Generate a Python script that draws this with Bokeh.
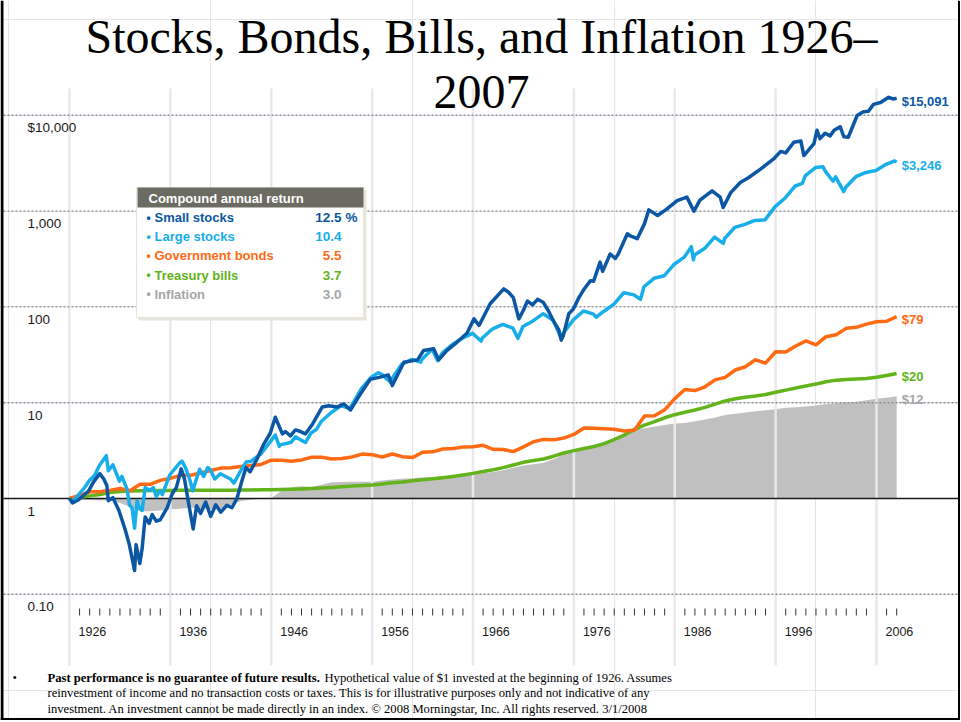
from bokeh.plotting import figure
from bokeh.models import Range1d
from bokeh.core.properties import value
from bokeh.embed import file_html
from bokeh.resources import INLINE

# ------------------------------------------------------------------ data
# Growth of $1 invested at the start of 1926
small_t = [1926.0, 1926.3, 1926.9, 1927.5, 1927.9, 1928.4, 1929.0, 1929.4, 1929.7, 1929.85,
           1930.3, 1930.9, 1931.2, 1931.55, 1931.9, 1932.2, 1932.45, 1932.6, 1932.97, 1933.2,
           1933.5, 1933.9, 1934.2, 1934.6, 1935.0, 1935.7, 1936.2, 1936.6, 1937.07, 1937.4,
           1937.8, 1938.26, 1938.6, 1939.0, 1939.5, 1940.0, 1940.5, 1941.0, 1941.6, 1942.1,
           1942.6, 1943.1, 1943.5, 1943.9, 1944.6, 1945.26, 1945.9, 1946.4, 1947.1, 1947.4,
           1947.9, 1948.4, 1948.9, 1949.4, 1950.1, 1951.05, 1951.7, 1952.5, 1953.2, 1953.85,
           1954.85, 1955.8, 1956.8, 1957.6, 1958.0, 1959.15, 1960.5, 1961.1, 1962.1, 1962.6,
           1963.4, 1964.4, 1965.4, 1966.1, 1966.6, 1967.7, 1969.05, 1969.5, 1970.0, 1970.54,
           1970.95, 1971.4, 1971.9, 1972.4, 1972.95, 1973.5, 1973.95, 1974.5, 1974.75, 1974.95,
           1975.5, 1975.95, 1976.5, 1976.95, 1977.65, 1977.95, 1978.6, 1978.85, 1979.6, 1980.1,
           1980.4, 1981.3, 1981.6, 1982.28, 1983.0, 1983.43, 1984.3, 1985.2, 1986.24, 1987.2,
           1987.9, 1988.5, 1989.7, 1990.5, 1990.8, 1991.55, 1992.5, 1993.34, 1994.5, 1995.8,
           1996.5, 1997.0, 1997.8, 1998.5, 1998.8, 1999.8, 2000.1, 2000.4, 2000.9, 2001.4,
           2001.8, 2002.4, 2002.76, 2003.2, 2004.08, 2004.7, 2005.2, 2005.7, 2006.4, 2007.2,
           2007.7, 2008.0]
small_v = [1.00, 0.90, 0.97, 1.10, 1.20, 1.50, 1.82, 1.60, 1.37, 0.95,
           1.02, 0.75, 0.60, 0.46, 0.34, 0.24, 0.177, 0.33, 0.21, 0.30,
           0.64, 0.55, 0.68, 0.58, 0.60, 0.81, 1.13, 1.30, 2.04, 1.60,
           0.90, 0.48, 0.84, 0.70, 0.92, 0.65, 0.86, 0.72, 0.85, 0.80,
           1.00, 1.54, 2.10, 1.90, 2.60, 3.70, 4.80, 7.06, 4.73, 5.00,
           4.50, 5.20, 5.00, 4.73, 6.00, 9.00, 9.30, 9.00, 9.70, 8.40,
           12.4, 17.5, 18.5, 19.5, 15.1, 26.4, 28.0, 35.0, 36.5, 28.0,
           35.0, 42.7, 53.0, 75.0, 64.0, 108, 154, 143, 125, 75,
           90, 115, 105, 120, 112, 90, 72, 58, 45, 50,
           85, 95, 125, 150, 188, 185, 293, 235, 357, 320,
           357, 580, 550, 515, 740, 1030, 900, 1050, 1285, 1400,
           1000, 1300, 1630, 1400, 1090, 1560, 1985, 2240, 2740, 3500,
           4200, 4050, 5240, 5400, 3800, 5050, 6980, 5700, 6500, 6100,
           6980, 7600, 5970, 5900, 9960, 10900, 11000, 13000, 13600, 15400,
           14800, 15091]

large_t = [1926.0, 1926.3, 1926.9, 1927.5, 1927.95, 1928.5, 1928.95, 1929.65, 1929.85, 1930.3,
           1930.95, 1931.2, 1931.7, 1931.95, 1932.2, 1932.45, 1932.7, 1932.95, 1933.2, 1933.5,
           1933.95, 1934.3, 1934.6, 1934.95, 1935.2, 1935.95, 1936.95, 1937.15, 1937.5, 1937.95,
           1938.2, 1938.9, 1939.3, 1939.7, 1939.95, 1940.4, 1940.95, 1941.95, 1942.3, 1942.95,
           1943.5, 1943.95, 1944.95, 1945.95, 1946.4, 1946.8, 1946.95, 1947.5, 1947.95, 1948.4,
           1948.95, 1949.4, 1949.95, 1950.5, 1950.95, 1951.95, 1952.95, 1953.7, 1953.95, 1954.95,
           1955.95, 1956.6, 1956.95, 1957.8, 1957.95, 1958.95, 1959.95, 1960.8, 1960.95, 1961.95,
           1962.5, 1962.95, 1963.95, 1964.95, 1965.95, 1966.8, 1966.95, 1967.95, 1968.95, 1969.95,
           1970.45, 1970.95, 1971.95, 1972.95, 1973.95, 1974.75, 1974.95, 1975.95, 1976.95, 1977.95,
           1978.2, 1978.95, 1979.95, 1980.95, 1981.95, 1982.6, 1982.95, 1983.95, 1984.95, 1985.95,
           1986.95, 1987.65, 1987.85, 1987.95, 1988.95, 1989.95, 1990.8, 1990.95, 1991.95, 1992.95,
           1993.95, 1994.95, 1995.95, 1996.95, 1997.95, 1998.65, 1998.95, 1999.95, 2000.7, 2000.95,
           2001.7, 2001.95, 2002.75, 2002.95, 2003.95, 2004.95, 2005.95, 2006.95, 2007.8, 2008.0]
large_v = [1.00, 0.92, 1.10, 1.30, 1.535, 1.75, 2.20, 2.80, 1.95, 2.25,
           1.52, 1.70, 1.25, 0.86, 0.80, 0.49, 0.95, 0.79, 0.75, 1.30,
           1.21, 1.30, 1.05, 1.20, 1.10, 1.77, 2.37, 2.45, 2.10, 1.54,
           1.20, 2.02, 1.70, 2.10, 2.01, 1.60, 1.81, 1.60, 1.45, 1.93,
           2.40, 2.43, 2.91, 3.97, 4.60, 3.50, 3.65, 3.75, 3.85, 4.40,
           4.07, 3.85, 4.83, 5.30, 6.36, 7.89, 9.34, 8.70, 9.24, 14.11,
           18.56, 20.50, 19.78, 16.50, 17.65, 25.30, 28.32, 26.50, 28.46, 36.11,
           27.50, 32.95, 40.47, 47.14, 53.01, 44.00, 47.67, 59.10, 65.64, 60.06,
           47.00, 62.47, 71.41, 84.96, 72.50, 47.00, 53.31, 73.14, 90.58, 84.08,
           78.00, 89.59, 106.11, 140.51, 133.62, 120.00, 162.22, 198.75, 211.20, 279.12,
           330.67, 425.00, 310.00, 347.97, 406.46, 534.46, 460.00, 517.50, 675.59, 727.41,
           800.08, 810.54, 1113.92, 1370.95, 1828.33, 1950.00, 2350.89, 2845.63, 2900.00, 2586.52,
           2050.00, 2279.13, 1600.00, 1775.34, 2284.79, 2533.41, 2657.85, 3077.69, 3340.00, 3246.0]

# year-end values, first entry = start of 1926
annual_t = list(range(1926, 2009))
bonds_v = [1.000, 1.078, 1.174, 1.175, 1.215, 1.272, 1.204, 1.407, 1.405, 1.547,
           1.624, 1.746, 1.750, 1.847, 1.957, 2.076, 2.095, 2.162, 2.207, 2.269,
           2.513, 2.510, 2.444, 2.529, 2.692, 2.693, 2.588, 2.617, 2.713, 2.908,
           2.870, 2.710, 2.912, 2.734, 2.673, 3.041, 3.070, 3.282, 3.322, 3.438,
           3.462, 3.589, 3.259, 3.251, 3.086, 3.460, 3.917, 4.140, 4.094, 4.272,
           4.665, 5.447, 5.410, 5.346, 5.280, 5.071, 5.166, 7.251, 7.298, 8.427,
           11.037, 13.745, 13.372, 14.665, 17.322, 18.392, 21.942, 23.709, 28.034, 25.856,
           34.044, 33.727, 39.074, 44.178, 40.218, 48.856, 51.154, 59.702, 61.178, 66.134,
           70.092, 70.853, 79.0]
bills_v = [1.000, 1.033, 1.065, 1.103, 1.155, 1.183, 1.196, 1.207, 1.211, 1.213,
           1.215, 1.217, 1.221, 1.221, 1.221, 1.221, 1.222, 1.225, 1.229, 1.233,
           1.237, 1.242, 1.248, 1.258, 1.272, 1.287, 1.306, 1.328, 1.352, 1.364,
           1.385, 1.419, 1.464, 1.486, 1.530, 1.571, 1.604, 1.648, 1.700, 1.760,
           1.829, 1.916, 1.997, 2.101, 2.239, 2.385, 2.490, 2.585, 2.764, 2.986,
           3.159, 3.319, 3.489, 3.740, 4.128, 4.592, 5.267, 5.822, 6.335, 6.959,
           7.496, 7.957, 8.393, 8.926, 9.673, 10.429, 11.012, 11.398, 11.728, 12.186,
           12.868, 13.538, 14.250, 14.942, 15.641, 16.563, 17.197, 17.480, 17.659, 17.871,
           18.403, 19.266, 20.19]
infl_v = [1.000, 0.985, 0.964, 0.955, 0.957, 0.899, 0.814, 0.730, 0.734, 0.749,
          0.771, 0.780, 0.804, 0.782, 0.778, 0.786, 0.862, 0.942, 0.972, 0.993,
          1.015, 1.199, 1.307, 1.343, 1.318, 1.395, 1.477, 1.490, 1.499, 1.492,
          1.497, 1.540, 1.580, 1.607, 1.631, 1.654, 1.666, 1.687, 1.715, 1.736,
          1.770, 1.830, 1.886, 1.975, 2.095, 2.208, 2.283, 2.362, 2.568, 2.885,
          3.086, 3.236, 3.455, 3.758, 4.256, 4.796, 5.223, 5.420, 5.629, 5.854,
          6.071, 6.140, 6.408, 6.687, 6.993, 7.436, 7.664, 7.899, 8.118, 8.339,
          8.555, 8.837, 8.989, 9.134, 9.373, 9.691, 9.842, 10.071, 10.259, 10.600,
          10.968, 11.247, 11.71]

series_names = ["Small stocks", "Large stocks", "Government bonds", "Treasury bills", "Inflation"]
series_returns = ["12.5", "10.4", "5.5", "3.7", "3.0"]
end_labels = ["$15,091", "$3,246", "$79", "$20", "$12"]

y_tick_values = [10000, 1000, 100, 10, 1, 0.1]
y_tick_labels = ["$10,000", "1,000", "100", "10", "1", "0.10"]
decade_years = [1926, 1936, 1946, 1956, 1966, 1976, 1986, 1996, 2006]

# ------------------------------------------------------------------ styles
C_SMALL = "#0b57a4"
C_LARGE = "#17aeea"
C_BONDS = "#ff6a13"
C_BILLS = "#63b31b"
C_INFL = "#a6a6a6"
C_AREA = "#c0c0c0"
colors = [C_SMALL, C_LARGE, C_BONDS, C_BILLS, C_INFL]
SANS = value("Liberation Sans")
SERIF = value("Liberation Serif")

W, H = 960, 720
PX_PER_YEAR = 10.0875
PX_PER_DECADE = 95.8
X_LEFT = 1926 - 69 / PX_PER_YEAR
X_RIGHT = X_LEFT + W / PX_PER_YEAR


def xs(px):  # page pixel -> year coordinate
    return X_LEFT + px / PX_PER_YEAR


def ys(py):  # page pixel -> value coordinate (log)
    return 10 ** ((498 - py) / PX_PER_DECADE)


p = figure(width=W, height=H, x_range=Range1d(X_LEFT, X_RIGHT),
           y_range=Range1d(ys(H), ys(0)), y_axis_type="log",
           x_axis_location=None, y_axis_location=None,
           toolbar_location=None, output_backend="svg", min_border=0,
           outline_line_color=None, background_fill_color="white",
           border_fill_color="white")

# inflation area (between 1 and the index)
p.varea(x=annual_t, y1=1.0, y2=infl_v, fill_color=C_AREA)

# vertical light grid lines at decades
p.segment(x0=decade_years, y0=ys(665), x1=decade_years, y1=ys(88),
          line_color="#e9e9e9", line_width=2.5)

# dotted horizontal grid lines
grid_vals = [v for v in y_tick_values if v != 1]
p.segment(x0=xs(3), y0=grid_vals, x1=xs(958), y1=grid_vals,
          line_color="#8593a0", line_width=1.4, line_dash="2 2")
# baseline at $1
p.segment(x0=[xs(3)], y0=[1], x1=[xs(958)], y1=[1], line_color="#1a1a1a", line_width=1.5)

# series
LW = 3.5
p.line(annual_t, bills_v, line_color=C_BILLS, line_width=LW, line_join="round")
p.line(annual_t, bonds_v, line_color=C_BONDS, line_width=LW, line_join="round")
p.line(large_t, large_v, line_color=C_LARGE, line_width=LW, line_join="round")
p.line(small_t, small_v, line_color=C_SMALL, line_width=LW, line_join="round")

# end labels
end_vals = [small_v[-1], large_v[-1], bonds_v[-1], bills_v[-1], infl_v[-1]]
p.text(x=[annual_t[-1]] * 5, y=end_vals, text=end_labels, x_offset=5, y_offset=3,
       text_color=colors, text_font=SANS, text_font_style="bold",
       text_font_size="13px", text_baseline="middle", text_align="left")

# y tick labels (inside plot)
p.text(x=xs(27), y=y_tick_values, text=y_tick_labels, y_offset=12.5,
       text_color="#1a1a1a", text_font=SANS, text_font_size="13.5px",
       text_baseline="middle", text_align="left")

# x ticks & labels
minor_years = [y for y in range(1927, 2009) if y not in decade_years]
p.segment(x0=minor_years, y0=ys(608), x1=minor_years, y1=ys(615),
          line_color="#333333", line_width=1)
p.text(x=decade_years, y=ys(631), text=[str(y) for y in decade_years], x_offset=9,
       text_color="#1a1a1a", text_font=SANS, text_font_size="12.5px",
       text_baseline="middle", text_align="left")

# legend box
p.quad(left=xs(138), right=xs(366), top=ys(189), bottom=ys(320),
       fill_color="#e8e5da", line_color=None)
p.quad(left=xs(136), right=xs(363), top=ys(187), bottom=ys(317),
       fill_color="white", line_color="#e8e5da", line_width=1)
p.quad(left=xs(137), right=xs(363), top=ys(187), bottom=ys(207),
       fill_color="#6b6b62", line_color=None)
p.text(x=[xs(148)], y=[ys(197.5)], text=["Compound annual return"],
       text_color="white", text_font=SANS, text_font_style="bold",
       text_font_size="13px", text_baseline="middle")
item_y = [ys(217 + 19.2 * i) for i in range(len(series_names))]
p.text(x=[xs(146)] * 5, y=item_y, text=["\u2022"] * 5, text_color=colors,
       text_font=SANS, text_font_style="bold", text_font_size="12px",
       text_baseline="middle")
p.text(x=[xs(154)] * 5, y=item_y, text=series_names, text_color=colors,
       text_font=SANS, text_font_style="bold", text_font_size="13px",
       text_baseline="middle")
p.text(x=[xs(341)] * 5, y=item_y, text=series_returns, text_color=colors,
       text_font=SANS, text_font_style="bold", text_font_size="13.5px",
       text_baseline="middle", text_align="right")
p.text(x=[xs(345)], y=[item_y[0]], text=["%"], text_color=C_SMALL,
       text_font=SANS, text_font_style="bold", text_font_size="13.5px",
       text_baseline="middle")

# title
p.text(x=[xs(481)] * 2, y=[ys(36), ys(91)],
       text=["Stocks, Bonds, Bills, and Inflation 1926\u2013", "2007"],
       text_color="black", text_font=SERIF, text_font_size="48px",
       text_align="center", text_baseline="middle")

# footnote
p.text(x=[xs(12)], y=[ys(677)], text=["\u2022"], text_color="black",
       text_font=SERIF, text_font_size="12.6px", text_baseline="middle")
p.text(x=[xs(47)], y=[ys(677)], text=["Past performance is no guarantee of future results."],
       text_color="black", text_font=SERIF, text_font_style="bold",
       text_font_size="12.6px", text_baseline="middle")
p.text(x=[xs(324), xs(47), xs(47)], y=[ys(677), ys(692), ys(708)],
       text=["Hypothetical value of $1 invested at the beginning of 1926. Assumes",
             "reinvestment of income and no transaction costs or taxes. This is for illustrative purposes only and not indicative of any",
             "investment. An investment cannot be made directly in an index. \u00a9 2008 Morningstar, Inc. All rights reserved. 3/1/2008"],
       text_color="black", text_font=SERIF, text_font_size="12.6px",
       text_baseline="middle")

# slide frame (left, right, bottom)
p.segment(x0=[xs(1.5), xs(959), xs(0)], y0=[ys(0), ys(0), ys(719)],
          x1=[xs(1.5), xs(959), xs(960)], y1=[ys(720), ys(720), ys(719)],
          line_color="black", line_width=3)

open("out.html", "w").write(file_html(p, INLINE))
